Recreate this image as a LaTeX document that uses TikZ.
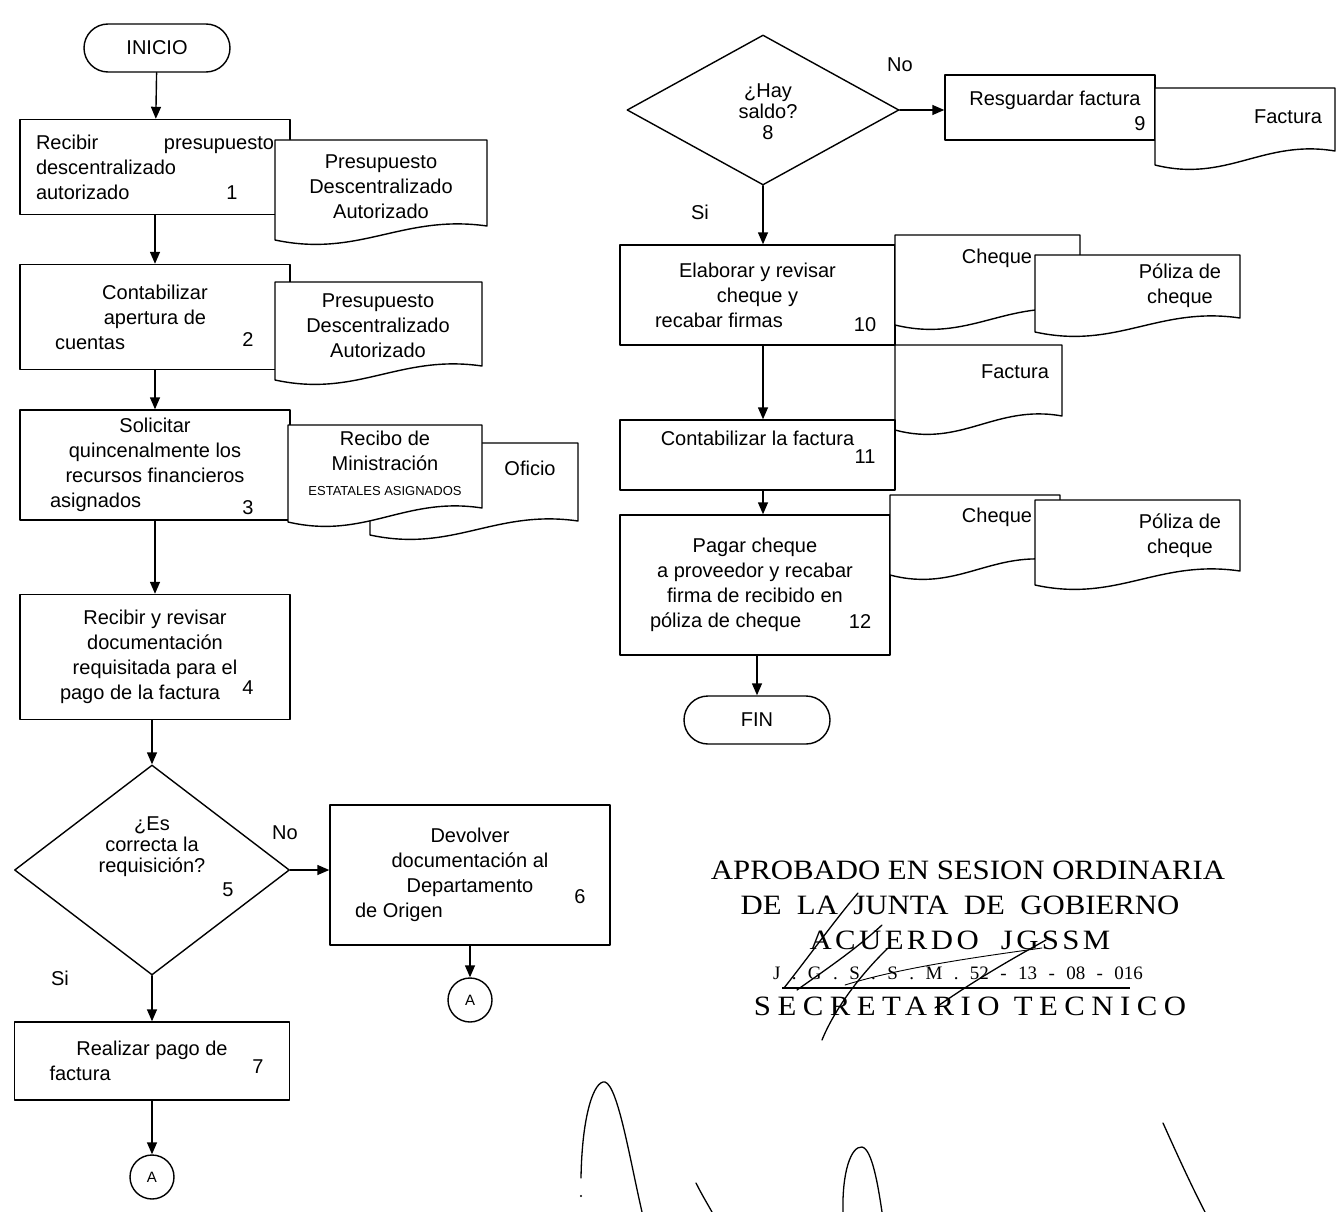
\documentclass[tikz,border=0pt]{standalone}
\usepackage{fontspec}
\setmainfont{Liberation Sans}
\newfontfamily\stampfont{Liberation Serif}
\usetikzlibrary{shapes.geometric,arrows.meta,calc}

\newcommand{\flowsize}{\fontsize{20}{25}\selectfont}

\tikzset{
  ink/.style={line width=1.4pt, line cap=round, line join=round},
  procbox/.style={draw, ink, rectangle, align=center, font=\flowsize, inner sep=0pt},
  doctext/.style={align=center, font=\flowsize, inner sep=0pt},
  termbox/.style={draw, ink, rectangle, rounded corners=24pt, font=\flowsize,
    minimum width=146pt, minimum height=48pt, inner sep=0pt},
  decbox/.style={draw, ink, diamond, inner sep=0pt},
  dectext/.style={align=center, font=\fontsize{20}{21}\selectfont, inner sep=0pt},
  connbox/.style={draw, ink, circle, minimum size=44pt, inner sep=0pt, font=\fontsize{15}{16}\selectfont},
  flow/.style={ink, -{Triangle[length=12pt,width=10pt]}},
  numtag/.style={font=\flowsize, inner sep=0pt},
  answer/.style={font=\flowsize, inner sep=0pt},
  stamp/.style={font=\stampfont\fontsize{28}{30}\selectfont, inner sep=0pt},
  pen/.style={line width=1.3pt, line cap=round, line join=round},
}

% document symbol: flat top, wavy bottom (x1,y1) top-left, (x2,y2) lowest bottom-left
\newcommand{\flowdoc}[4]{%
  \draw[ink, fill=white] ({#1},{#2}) -- ({#3},{#2}) -- ({#3},{#4-14})
    .. controls +({-0.4*(#3-#1)},-12) and +({0.4*(#3-#1)},18) .. ({#1},{#4}) -- cycle;}

\begin{document}
\begin{tikzpicture}[x=1pt,y=-1pt]
\useasboundingbox (0,0) rectangle (1342,1212);

% ---------------- left column ----------------
\node[termbox] (start) at (157,48) {INICIO};

\node[procbox, minimum width=270pt, minimum height=95pt, text width=238pt, align=left]
  (b1) at (155,167) {Recibir \hfill presupuesto\\descentralizado\\autorizado};
\node[numtag] (n1) at (232,193) {1};
\flowdoc{275}{140}{487}{240}
\node[doctext] (d1) at (381,187) {Presupuesto\\Descentralizado\\Autorizado};

\node[procbox, minimum width=270pt, minimum height=105pt] (b2) at (155,317)
  {Contabilizar\\apertura de\\\makebox[200pt][l]{cuentas}};
\node[numtag] (n2) at (248,340) {2};
\flowdoc{275}{282}{482}{380}
\node[doctext] (d2) at (378,326) {Presupuesto\\Descentralizado\\Autorizado};

\node[procbox, minimum width=270pt, minimum height=110pt] (b3) at (155,465)
  {Solicitar\\quincenalmente los\\recursos financieros\\\makebox[210pt][l]{asignados}};
\node[numtag] (n3) at (248,508) {3};
\flowdoc{370}{443}{578}{535}
\node[doctext] (d3b) at (530,468) {Oficio};
\flowdoc{288}{425}{482}{522}
\node[doctext] (d3) at (385,463) {Recibo de\\Ministración\\{\fontsize{13}{15}\selectfont ESTATALES ASIGNADOS}};

\node[procbox, minimum width=270pt, minimum height=125pt] (b4) at (155,657)
  {Recibir y revisar\\documentación\\requisitada para el\\\makebox[190pt][l]{pago de la factura}};
\node[numtag] (n4) at (248,688) {4};

\node[decbox, minimum width=275pt, minimum height=210pt] (q5) at (152,870) {};
\node[dectext] (q5t) at (152,847) {¿Es\\correcta la\\requisición?};
\node[numtag] (n5) at (228,890) {5};
\node[answer] (no5) at (285,833) {No};
\node[answer] (si5) at (60,978) {Si};

\node[procbox, minimum width=280pt, minimum height=140pt] (b6) at (470,875)
  {Devolver\\documentación al\\Departamento\\\makebox[230pt][l]{de Origen}};
\node[numtag] (n6) at (580,897) {6};
\node[connbox] (ca1) at (470,1000) {A};

\node[procbox, minimum width=275pt, minimum height=78pt] (b7) at (152,1061)
  {Realizar pago de\\\makebox[205pt][l]{factura}};
\node[numtag] (n7) at (258,1067) {7};
\node[connbox] (ca2) at (152,1177) {A};

\draw[flow] (start) -- (b1);
\draw[flow] (b1) -- (b2);
\draw[flow] (b2) -- (b3);
\draw[flow] (b3) -- (b4);
\draw[flow] (b4.south -| q5.north) -- (q5.north);
\draw[flow] (q5.east) -- (q5.east -| b6.west);
\draw[flow] (b6) -- (ca1);
\draw[flow] (q5.south) -- (b7.north);
\draw[flow] (b7) -- (ca2);

% ---------------- right column ----------------
\node[decbox, minimum width=272pt, minimum height=150pt] (q8) at (763,110) {};
\node[dectext] (q8t) at (768,112) {¿Hay\\saldo?\\8};
\node[answer] (no8) at (900,65) {No};
\node[answer] (si8) at (700,212) {Si};

\node[procbox, minimum width=210pt, minimum height=65pt] (b9) at (1050,107.5) {};
\node[doctext] (b9t) at (1055,100) {Resguardar factura};
\flowdoc{1155}{88}{1335}{165}
\node[doctext] (d9) at (1288,117) {Factura};
\node[numtag] (n9) at (1140,124) {9};

\node[procbox, minimum width=275pt, minimum height=100pt] (b10) at (757.5,295)
  {Elaborar y revisar\\cheque y\\\makebox[205pt][l]{recabar firmas}};
\node[numtag] (n10) at (865,325) {10};
\flowdoc{895}{235}{1080}{325}
\node[doctext] (d10a) at (997,258) {Cheque};
\flowdoc{1035}{255}{1240}{332}
\node[doctext] (d10b) at (1180,286) {Póliza de\\cheque};
\flowdoc{895}{345}{1062}{430}
\node[doctext] (d10c) at (1015,372) {Factura};

\node[procbox, minimum width=275pt, minimum height=70pt] (b11) at (757.5,455)
  {Contabilizar la factura\\\strut};
\node[numtag] (n11) at (865,457) {11};

\node[procbox, minimum width=270pt, minimum height=140pt] (b12) at (755,585)
  {Pagar cheque\\a proveedor y recabar\\firma de recibido en\\\makebox[210pt][l]{póliza de cheque}};
\node[numtag] (n12) at (860,622) {12};
\flowdoc{890}{495}{1060}{575}
\node[doctext] (d12a) at (997,517) {Cheque};
\flowdoc{1035}{500}{1240}{585}
\node[doctext] (d12b) at (1180,536) {Póliza de\\cheque};

\node[termbox] (fin) at (757,720) {FIN};

\draw[flow] (q8.east) -- (q8.east -| b9.west);
\draw[flow] (q8.south) -- (q8.south |- b10.north);
\draw[flow] (b10.south -| q8.south) -- (b11.north -| q8.south);
\draw[flow] (b11.south -| q8.south) -- (b12.north -| q8.south);
\draw[flow] (b12.south -| fin.north) -- (fin.north);

% ---------------- approval stamp ----------------
\node[stamp] (st1) at (968,870) {\scalebox{1.1}[1]{APROBADO EN SESION ORDINARIA}};
\node[stamp] (st2) at (960,905) {\scalebox{1.1}[1]{DE\ \ LA\ \ JUNTA\ \ DE\ \ GOBIERNO}};
\node[stamp] (st3) at (960,940) {\scalebox{1.1}[1]{\addfontfeatures{LetterSpace=11}ACUERDO\ \ JGSSM}};
\node[stamp, font=\stampfont\fontsize{19}{20}\selectfont] (st4) at (958,973)
  {\makebox[370pt][s]{J . G . S . S . M . 52 - 13 - 08 - 016}};
\draw[line width=2pt] (782,988) -- (1130,988);
\node[stamp] (st5) at (970,1006) {\scalebox{1.1}[1]{\addfontfeatures{LetterSpace=21}SECRETARIO TECNICO}};

% signature over the stamp
\draw[pen] (784,988) .. controls (810,955) and (835,920) .. (858,893);
\draw[pen] (797,990) .. controls (825,970) and (855,950) .. (882,925);
\draw[pen] (822,1040) .. controls (830,1020) and (850,985) .. (888,948);
\draw[pen, line width=0.9pt] (845,985) .. controls (900,968) and (970,958) .. (1042,948);
\draw[pen] (935,1008) .. controls (975,980) and (1010,960) .. (1046,940);

% signatures at the foot of the page
\draw[pen] (581,1178) .. controls (582,1115) and (594,1080) .. (605,1082)
  .. controls (618,1086) and (630,1160) .. (642,1212);
\fill (581,1196) circle (1.2pt);
\draw[pen] (696,1183) .. controls (702,1195) and (707,1203) .. (712,1212);
\draw[pen] (843,1212) .. controls (842,1172) and (851,1146) .. (862,1147)
  .. controls (872,1149) and (878,1185) .. (882,1212);
\draw[pen] (1163,1123) .. controls (1176,1152) and (1191,1185) .. (1205,1212);
\end{tikzpicture}
\end{document}
